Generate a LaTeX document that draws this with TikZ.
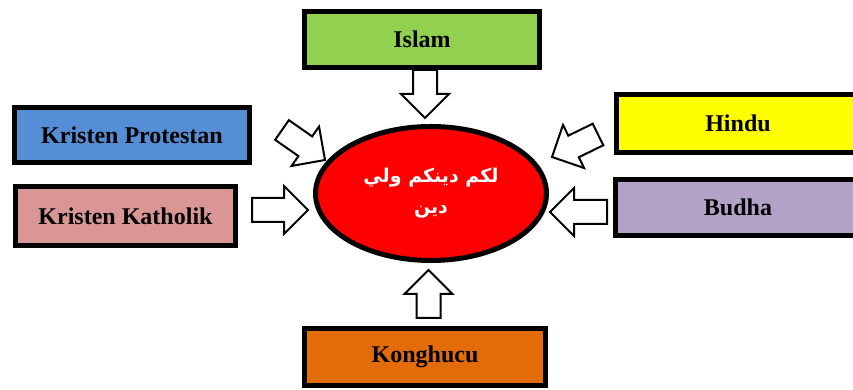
\documentclass[tikz,border=0pt]{standalone}
\usepackage{fontspec}
\setmainfont{Liberation Serif}
\newfontfamily\arabicfont[Script=Arabic]{DejaVu Sans}
\TeXXeTstate=1
\usetikzlibrary{calc,positioning,shapes.geometric}
\definecolor{islamgreen}{RGB}{146,208,80}
\definecolor{protblue}{RGB}{85,142,213}
\definecolor{kathpink}{RGB}{217,150,148}
\definecolor{hinduyellow}{RGB}{255,255,0}
\definecolor{budhalilac}{RGB}{178,162,199}
\definecolor{konghorange}{RGB}{227,108,9}
\definecolor{centrered}{RGB}{255,0,0}

% block arrow: tail, tip, shaft half width, head half width, head length
\newcommand{\fatarrow}[5]{%
 \coordinate (fa-base) at ($(#2)!#5!(#1)$);
 \draw[fat arrow] ($(#1)!#3!90:(#2)$) -- ($(fa-base)!#3!90:(#2)$)
  -- ($(fa-base)!#4!90:(#2)$) -- (#2)
  -- ($(fa-base)!#4!-90:(#2)$) -- ($(fa-base)!#3!-90:(#2)$)
  -- ($(#1)!#3!-90:(#2)$) -- cycle;}

\begin{document}
\begin{tikzpicture}[x=1pt,y=1pt,line join=miter,
 religion/.style={draw,line width=5pt,inner sep=0pt,
  font=\fontsize{24}{28}\selectfont\bfseries},
 fat arrow/.style={draw,fill=white,line width=2pt}]
 \path[use as bounding box,clip] (0,0) rectangle (853,390);
 \node[religion,fill=islamgreen,minimum width=235,minimum height=56]
  (islam) at (422,350.5) {Islam};
 \node[religion,fill=protblue,minimum width=235,minimum height=55]
  (prot) at (132,255) {Kristen Protestan};
 \node[religion,fill=kathpink,minimum width=220,minimum height=59]
  (kath) at (125.5,174) {Kristen Katholik};
 \node[religion,fill=hinduyellow,minimum width=243,minimum height=58]
  (hindu) at (738,266.5) {Hindu};
 \node[religion,fill=budhalilac,minimum width=245,minimum height=56]
  (budha) at (738,182.5) {Budha};
 \node[religion,fill=konghorange,minimum width=241,minimum height=57]
  (kong) at (425,33) {Konghucu};
 \node[ellipse,draw,line width=5pt,fill=centrered,inner sep=0pt,
  minimum width=231,minimum height=134,text=white,align=center,
  font=\arabicfont\bfseries\fontsize{19}{31}\selectfont]
  (rel) at (431,196.5) {\beginR لكم دينكم ولي\endR\\\beginR دين\endR};
 \coordinate (islamtail) at (425,320);
 \coordinate (islamtip) at (425,272);
 \coordinate (kongtail) at (428.5,72);
 \coordinate (kongtip) at (428.5,120);
 \coordinate (kathtail) at (252,180);
 \coordinate (kathtip) at (308,180);
 \coordinate (budhatail) at (607,178);
 \coordinate (budhatip) at (550,178);
 \coordinate (prottail) at (282,260);
 \coordinate (prottip) at (325,230);
 \coordinate (hindutail) at (598,255.5);
 \coordinate (hindutip) at (552,233);
 \foreach \r in {islam,kong,kath,budha,prot,hindu}
  \fatarrow{\r tail}{\r tip}{12pt}{24pt}{24pt};
\end{tikzpicture}
\end{document}
